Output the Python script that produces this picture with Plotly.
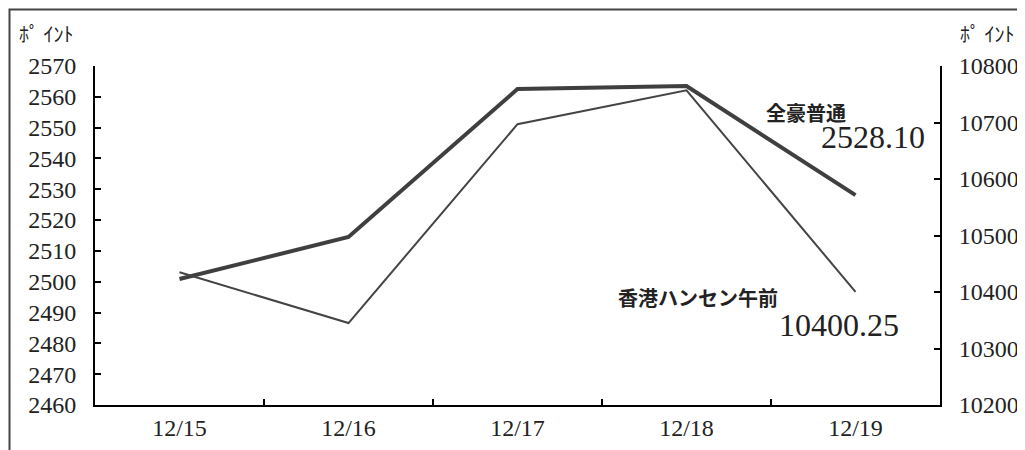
import plotly.graph_objects as go

dates = ["12/15", "12/16", "12/17", "12/18", "12/19"]
aus_all_ords = [2500.9, 2514.5, 2562.5, 2563.5, 2528.10]
hang_seng_am = [10435, 10345, 10697, 10757, 10400.25]

left_ticks = list(range(2460, 2571, 10))
right_ticks = list(range(10200, 10801, 100))

# page body has an 8px margin; work in screen pixels and shift
OFF = 8
W, H = 1025 - OFF, 450 - OFF
L, R, T, B = 95 - OFF, 940 - OFF, 66 - OFF, 405 - OFF


def px(x):
    return (x - OFF - L) / (R - L)


def py(y):
    return (B - (y - OFF)) / (B - T)


serif = "Liberation Serif, DejaVu Serif, serif"
cjk = "Noto Sans CJK JP, sans-serif"

fig = go.Figure()
fig.add_trace(go.Scatter(x=dates, y=aus_all_ords, mode="lines",
                         line=dict(color="#3f3f3f", width=4), yaxis="y",
                         name="全豪普通"))
fig.add_trace(go.Scatter(x=dates, y=hang_seng_am, mode="lines",
                         line=dict(color="#444444", width=2), yaxis="y2",
                         name="香港ハンセン午前"))

axis_common = dict(showgrid=False, zeroline=False, showline=True,
                   linecolor="black", linewidth=2, ticks="inside",
                   ticklen=6, tickwidth=2, tickcolor="black",
                   tickfont=dict(family=serif, size=24, color="#222"))

fig.update_layout(
    width=W, height=H,
    margin=dict(l=L, r=W - R, t=T, b=H - B, autoexpand=False),
    plot_bgcolor="white", paper_bgcolor="white",
    showlegend=False,
    xaxis=dict(type="category", tickson="boundaries", range=[-0.5, 4.5],
               **axis_common),
    yaxis=dict(range=[2460, 2570], tickvals=left_ticks, tickformat="d",
               ticklabelstandoff=12, **axis_common),
    yaxis2=dict(range=[10200, 10800], tickvals=right_ticks, tickformat="d",
                overlaying="y", side="right", ticklabelstandoff=12,
                **axis_common),
)

fig.add_shape(type="rect", xref="paper", yref="paper",
              x0=px(9.5), x1=px(1040), y0=py(460), y1=py(9.5),
              line=dict(color="#444", width=2), layer="below")

ann = [
    ("全豪普通", 806, 113, cjk, 20, True),
    ("2528.10", 873, 137, serif, 32, False),
    ("香港ハンセン午前", 698, 297, cjk, 20, True),
    ("10400.25", 839, 325, serif, 32, False),
    ("ﾎﾟ ｲﾝﾄ", 46, 33, cjk, 20, False),
    ("ﾎﾟ ｲﾝﾄ", 987, 33, cjk, 20, False),
]
for text, x, y, fam, size, bold in ann:
    fig.add_annotation(text=f"<b>{text}</b>" if bold else text,
                       xref="paper", yref="paper", x=px(x), y=py(y),
                       xanchor="center", yanchor="middle", showarrow=False,
                       font=dict(family=fam, size=size, color="#222"))

fig.write_html("out.html")
